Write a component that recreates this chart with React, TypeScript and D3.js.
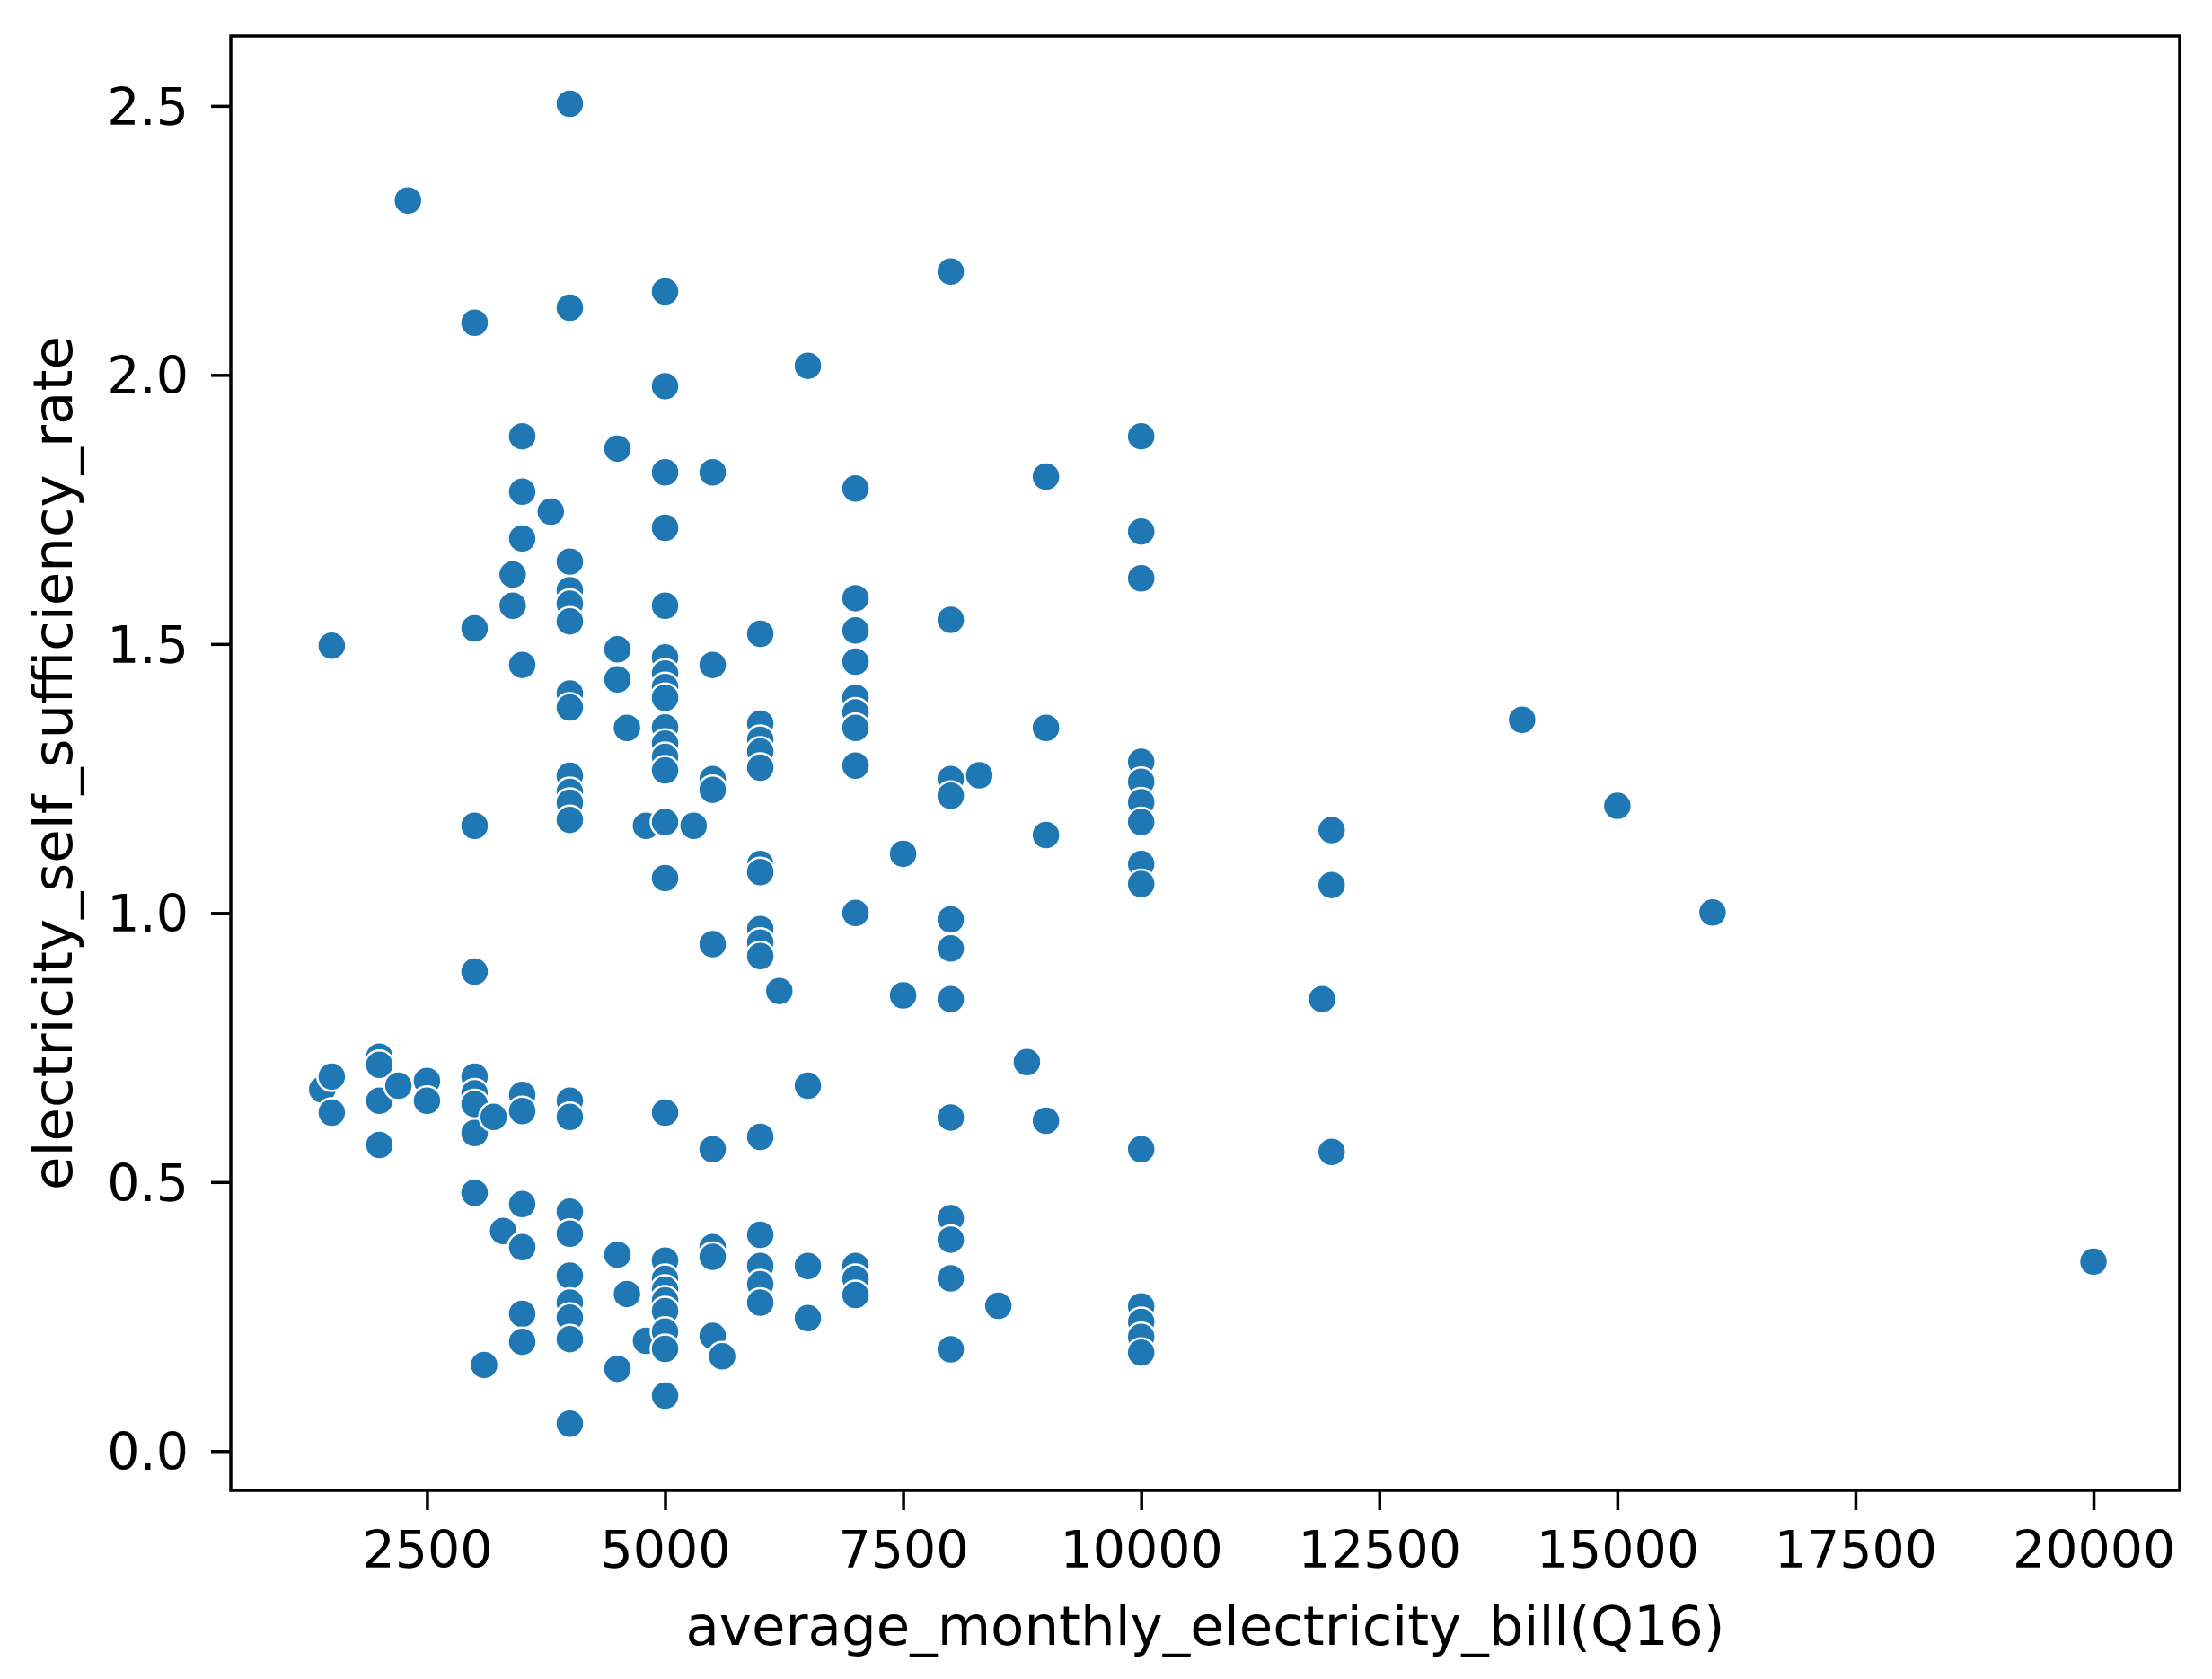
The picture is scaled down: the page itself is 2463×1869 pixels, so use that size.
import React, { useEffect, useRef } from 'react';
import * as d3 from 'd3';

// monthly bill levels (x) and the self sufficiency rates recorded at each level (y)
const billLevels = [
  1400, 1500, 2000, 2200, 2300, 2500, 3000, 3100, 3200, 3300, 3400, 3500, 3800, 4000,
  4500, 4600, 4800, 5000, 5300, 5500, 5600, 6000, 6200, 6500, 7000, 7500, 8000, 8300,
  8500, 8800, 9000, 10000, 11900, 12000, 14000, 15000, 16000, 20000,
];

const ratesByBill = [
  [0.672],
  [1.497, 0.696, 0.629],
  [0.733, 0.718, 0.651, 0.569],
  [0.679],
  [2.324],
  [0.688, 0.651],
  [2.097, 1.529, 1.162, 0.891, 0.696, 0.665, 0.645, 0.591, 0.48],
  [0.16],
  [0.621],
  [0.409],
  [1.629, 1.571],
  [1.886, 1.783, 1.696, 1.461, 0.662, 0.632, 0.459, 0.379, 0.255, 0.203],
  [1.746],
  [2.504, 2.125, 1.653, 1.6, 1.575, 1.542, 1.408, 1.382, 1.255, 1.225, 1.205, 1.173,
    0.651, 0.621, 0.445, 0.404, 0.326, 0.276, 0.248, 0.208, 0.051],
  [1.863, 1.49, 1.434, 0.365, 0.153],
  [1.344, 0.292],
  [1.162, 0.205],
  [2.155, 1.979, 1.819, 1.716, 1.571, 1.475, 1.445, 1.42, 1.4, 1.345, 1.315, 1.29, 1.265,
    1.169, 1.065, 0.629, 0.354, 0.32, 0.3, 0.28, 0.26, 0.222, 0.19, 0.103],
  [1.162],
  [1.819, 1.461, 1.249, 1.229, 0.942, 0.561, 0.379, 0.361, 0.214],
  [0.176],
  [1.519, 1.352, 1.322, 1.3, 1.27, 1.091, 1.076, 0.97, 0.945, 0.92, 0.584, 0.402, 0.344,
    0.31, 0.276],
  [0.855],
  [2.017, 0.679, 0.344, 0.247],
  [1.789, 1.585, 1.525, 1.467, 1.4, 1.373, 1.344, 1.274, 1.0, 0.344, 0.32, 0.29],
  [1.11, 0.847],
  [2.192, 1.545, 1.249, 1.218, 0.988, 0.934, 0.84, 0.62, 0.433, 0.393, 0.321, 0.189],
  [1.256],
  [0.27],
  [0.723],
  [1.811, 1.344, 1.145, 0.614],
  [1.886, 1.709, 1.622, 1.281, 1.244, 1.206, 1.169, 1.091, 1.054, 0.561, 0.269, 0.24,
    0.212, 0.183],
  [0.84],
  [1.154, 1.052, 0.556],
  [1.359],
  [1.199],
  [1.001],
  [0.352],
];

const xTicks = [2500, 5000, 7500, 10000, 12500, 15000, 17500, 20000];
const yTicks = [0, 0.5, 1.0, 1.5, 2.0, 2.5];
const xLimits = [440, 20905];
const yLimits = [-0.073, 2.63];

const xLabel = 'average_monthly_electricity_bill(Q16)';
const yLabel = 'electricity_self_sufficiency_rate';

const App = () => {
  const svgRef = useRef(null);

  useEffect(() => {
    const width = 2463;
    const height = 1869;
    const margin = { top: 40, right: 36, bottom: 210, left: 257 };
    const innerW = width - margin.left - margin.right;
    const innerH = height - margin.top - margin.bottom;
    const font = "'DejaVu Sans', sans-serif";

    const points = billLevels.flatMap((bill, i) => ratesByBill[i].map((rate) => ({ bill, rate })));

    const svg = d3.select(svgRef.current);
    svg.selectAll('*').remove();

    const g = svg.append('g').attr('transform', `translate(${margin.left},${margin.top})`);

    const x = d3.scaleLinear().domain(xLimits).range([0, innerW]);
    const y = d3.scaleLinear().domain(yLimits).range([innerH, 0]);

    // points
    g.selectAll('circle')
      .data(points)
      .enter()
      .append('circle')
      .attr('cx', (d) => x(d.bill))
      .attr('cy', (d) => y(d.rate))
      .attr('r', 16)
      .attr('fill', '#1f77b4')
      .attr('stroke', '#ffffff')
      .attr('stroke-width', 2.5);

    // x axis
    const xAxis = g.append('g')
      .attr('transform', `translate(0,${innerH})`)
      .call(d3.axisBottom(x).tickValues(xTicks).tickSize(22).tickFormat(d3.format('d')));
    xAxis.select('.domain').remove();
    xAxis.selectAll('.tick line').attr('stroke', '#000').attr('stroke-width', 3.5);
    xAxis.selectAll('.tick text')
      .attr('y', 86)
      .attr('dy', null)
      .attr('fill', '#000')
      .style('font-family', font)
      .style('font-size', '57px');

    // y axis
    const yAxis = g.append('g')
      .call(d3.axisLeft(y).tickValues(yTicks).tickSize(22).tickPadding(25).tickFormat(d3.format('.1f')));
    yAxis.select('.domain').remove();
    yAxis.selectAll('.tick line').attr('stroke', '#000').attr('stroke-width', 3.5);
    yAxis.selectAll('.tick text')
      .attr('dy', '0.36em')
      .attr('fill', '#000')
      .style('font-family', font)
      .style('font-size', '57px');

    // frame
    g.append('rect')
      .attr('width', innerW)
      .attr('height', innerH)
      .attr('fill', 'none')
      .attr('stroke', '#000')
      .attr('stroke-width', 3.5);

    // axis labels
    svg.append('text')
      .attr('x', margin.left + innerW / 2)
      .attr('y', 1831)
      .attr('text-anchor', 'middle')
      .style('font-family', font)
      .style('font-size', '61px')
      .attr('fill', '#000')
      .text(xLabel);

    svg.append('text')
      .attr('transform', `translate(80,${margin.top + innerH / 2}) rotate(-90)`)
      .attr('text-anchor', 'middle')
      .style('font-family', font)
      .style('font-size', '61px')
      .attr('fill', '#000')
      .text(yLabel);
  }, []);

  return (
    <div style={{ position: 'absolute', left: 0, top: 0, background: '#fff' }}>
      <svg ref={svgRef} width={2463} height={1869} style={{ display: 'block' }} />
    </div>
  );
};

export default App;
